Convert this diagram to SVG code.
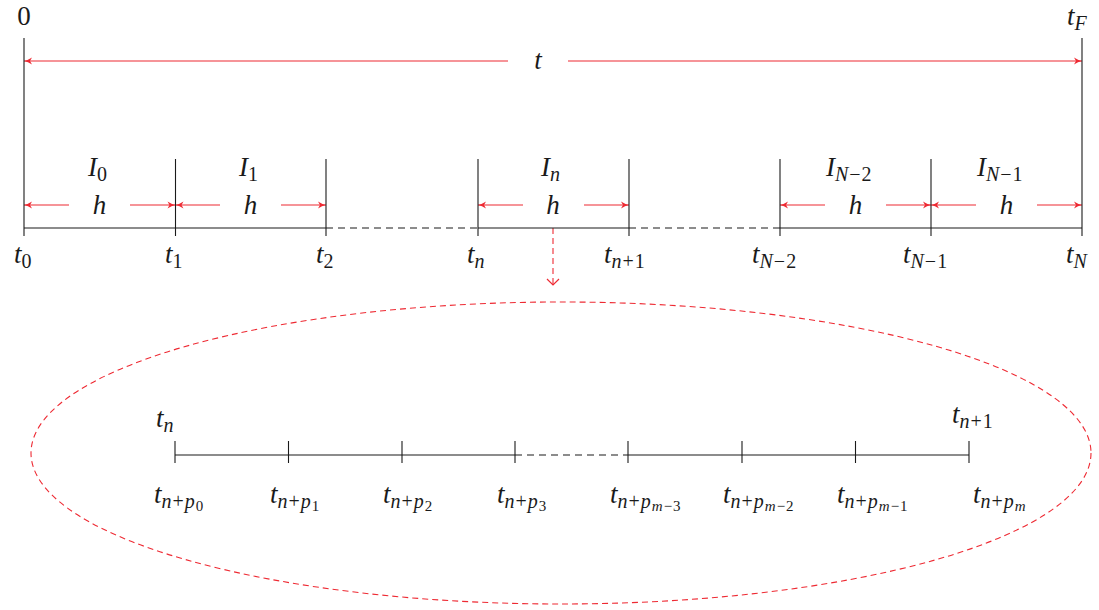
<svg xmlns="http://www.w3.org/2000/svg" width="1099" height="610" viewBox="0 0 1099 610">
<style>
.ax{stroke:#1a1a1a;stroke-width:1.1;fill:none}
.dash{stroke:#1a1a1a;stroke-width:1.1;fill:none;stroke-dasharray:7,5}
.ra{stroke:#ee2a33;stroke-width:1.2;fill:none}
.rd{stroke:#ee2a33;stroke-width:1.1;fill:none;stroke-dasharray:6,4}
text{font-family:'Liberation Serif','Times New Roman','DejaVu Serif',serif;font-size:27px;fill:#1a1a1a}
.i{font-style:italic}
.s{font-size:20px;letter-spacing:1px}
.ss{font-size:15px;letter-spacing:1px}
</style>
<defs>
<marker id="ah" markerWidth="10" markerHeight="10" refX="9" refY="5" orient="auto-start-reverse" markerUnits="userSpaceOnUse">
<path d="M1,1.5 Q5,4.2 9,5 Q5,5.8 1,8.5 L3,5 Z" fill="#ee2a33"/>
</marker>
</defs>
<g id="connectors">
<line class="ra" x1="24" y1="61" x2="508" y2="61" marker-start="url(#ah)"/>
<line class="ra" x1="568" y1="61" x2="1082" y2="61" marker-end="url(#ah)"/>
<line class="ra" x1="24" y1="205" x2="69" y2="205" marker-start="url(#ah)"/>
<line class="ra" x1="130" y1="205" x2="175.5" y2="205" marker-end="url(#ah)"/>
<line class="ra" x1="175.5" y1="205" x2="220" y2="205" marker-start="url(#ah)"/>
<line class="ra" x1="281" y1="205" x2="326" y2="205" marker-end="url(#ah)"/>
<line class="ra" x1="478" y1="205" x2="523" y2="205" marker-start="url(#ah)"/>
<line class="ra" x1="584" y1="205" x2="629" y2="205" marker-end="url(#ah)"/>
<line class="ra" x1="780" y1="205" x2="825" y2="205" marker-start="url(#ah)"/>
<line class="ra" x1="886" y1="205" x2="931" y2="205" marker-end="url(#ah)"/>
<line class="ra" x1="931" y1="205" x2="976" y2="205" marker-start="url(#ah)"/>
<line class="ra" x1="1037" y1="205" x2="1082" y2="205" marker-end="url(#ah)"/>
<line class="rd" x1="553" y1="228" x2="553" y2="285"/>
<path class="ra" d="M547,279 L553,285 L559,279"/>
</g>
<g id="main-axis">
<line class="ax" x1="24" y1="228" x2="326" y2="228"/>
<line class="dash" x1="326" y1="228" x2="478" y2="228"/>
<line class="ax" x1="478" y1="228" x2="629" y2="228"/>
<line class="dash" x1="629" y1="228" x2="780" y2="228"/>
<line class="ax" x1="780" y1="228" x2="1082" y2="228"/>
<line class="ax" x1="24" y1="38" x2="24" y2="236"/>
<line class="ax" x1="1082" y1="38" x2="1082" y2="236"/>
<line class="ax" x1="175.5" y1="159" x2="175.5" y2="236"/>
<line class="ax" x1="326" y1="159" x2="326" y2="236"/>
<line class="ax" x1="478" y1="159" x2="478" y2="236"/>
<line class="ax" x1="629" y1="159" x2="629" y2="236"/>
<line class="ax" x1="780" y1="159" x2="780" y2="236"/>
<line class="ax" x1="931" y1="159" x2="931" y2="236"/>
</g>
<g id="top-labels">
<text x="24" y="25" text-anchor="middle">0</text>
<text x="1067" y="25"><tspan class="i">t</tspan><tspan class="s i" dy="5">F</tspan></text>
<text x="538" y="69" text-anchor="middle" class="i">t</text>
</g>
<g id="interval-labels">
<text x="88" y="176"><tspan class="i">I</tspan><tspan class="s" dy="5">0</tspan></text>
<text x="239" y="176"><tspan class="i">I</tspan><tspan class="s" dy="5">1</tspan></text>
<text x="541" y="176"><tspan class="i">I</tspan><tspan class="s i" dy="5">n</tspan></text>
<text x="826" y="176"><tspan class="i">I</tspan><tspan class="s" dy="5"><tspan class="i">N</tspan>−2</tspan></text>
<text x="977" y="176"><tspan class="i">I</tspan><tspan class="s" dy="5"><tspan class="i">N</tspan>−1</tspan></text>
<text x="99.5" y="214" text-anchor="middle" class="i">h</text>
<text x="250.5" y="214" text-anchor="middle" class="i">h</text>
<text x="553" y="214" text-anchor="middle" class="i">h</text>
<text x="855.5" y="214" text-anchor="middle" class="i">h</text>
<text x="1006.5" y="214" text-anchor="middle" class="i">h</text>
</g>
<g id="tick-labels">
<text x="14" y="263"><tspan class="i">t</tspan><tspan class="s" dy="5">0</tspan></text>
<text x="165" y="263"><tspan class="i">t</tspan><tspan class="s" dy="5">1</tspan></text>
<text x="316" y="263"><tspan class="i">t</tspan><tspan class="s" dy="5">2</tspan></text>
<text x="467" y="263"><tspan class="i">t</tspan><tspan class="s i" dy="5">n</tspan></text>
<text x="604" y="263"><tspan class="i">t</tspan><tspan class="s" dy="5"><tspan class="i">n</tspan>+1</tspan></text>
<text x="752" y="263"><tspan class="i">t</tspan><tspan class="s" dy="5"><tspan class="i">N</tspan>−2</tspan></text>
<text x="903" y="263"><tspan class="i">t</tspan><tspan class="s" dy="5"><tspan class="i">N</tspan>−1</tspan></text>
<text x="1066" y="263"><tspan class="i">t</tspan><tspan class="s i" dy="5">N</tspan></text>
</g>
<g id="zoom-ellipse">
<ellipse class="rd" cx="561" cy="453" rx="530" ry="151"/>
</g>
<g id="sub-axis">
<line class="ax" x1="175" y1="455" x2="515" y2="455"/>
<line class="dash" x1="515" y1="455" x2="628" y2="455"/>
<line class="ax" x1="628" y1="455" x2="969" y2="455"/>
<line class="ax" x1="175" y1="441" x2="175" y2="463"/>
<line class="ax" x1="288.5" y1="441" x2="288.5" y2="463"/>
<line class="ax" x1="402" y1="441" x2="402" y2="463"/>
<line class="ax" x1="515" y1="441" x2="515" y2="463"/>
<line class="ax" x1="628" y1="441" x2="628" y2="463"/>
<line class="ax" x1="742" y1="441" x2="742" y2="463"/>
<line class="ax" x1="855.5" y1="441" x2="855.5" y2="463"/>
<line class="ax" x1="969" y1="441" x2="969" y2="463"/>
</g>
<g id="sub-labels">
<text x="156" y="427"><tspan class="i">t</tspan><tspan class="s i" dy="5">n</tspan></text>
<text x="952" y="423"><tspan class="i">t</tspan><tspan class="s" dy="5"><tspan class="i">n</tspan>+1</tspan></text>
<text x="154" y="503"><tspan class="i">t</tspan><tspan class="s" dy="5"><tspan class="i">n</tspan>+<tspan class="i">p</tspan></tspan><tspan class="ss" dy="3">0</tspan></text>
<text x="270" y="503"><tspan class="i">t</tspan><tspan class="s" dy="5"><tspan class="i">n</tspan>+<tspan class="i">p</tspan></tspan><tspan class="ss" dy="3">1</tspan></text>
<text x="383" y="503"><tspan class="i">t</tspan><tspan class="s" dy="5"><tspan class="i">n</tspan>+<tspan class="i">p</tspan></tspan><tspan class="ss" dy="3">2</tspan></text>
<text x="497" y="503"><tspan class="i">t</tspan><tspan class="s" dy="5"><tspan class="i">n</tspan>+<tspan class="i">p</tspan></tspan><tspan class="ss" dy="3">3</tspan></text>
<text x="610" y="503"><tspan class="i">t</tspan><tspan class="s" dy="5"><tspan class="i">n</tspan>+<tspan class="i">p</tspan></tspan><tspan class="ss" dy="3"><tspan class="i">m</tspan>−3</tspan></text>
<text x="723" y="503"><tspan class="i">t</tspan><tspan class="s" dy="5"><tspan class="i">n</tspan>+<tspan class="i">p</tspan></tspan><tspan class="ss" dy="3"><tspan class="i">m</tspan>−2</tspan></text>
<text x="837" y="503"><tspan class="i">t</tspan><tspan class="s" dy="5"><tspan class="i">n</tspan>+<tspan class="i">p</tspan></tspan><tspan class="ss" dy="3"><tspan class="i">m</tspan>−1</tspan></text>
<text x="973" y="503"><tspan class="i">t</tspan><tspan class="s" dy="5"><tspan class="i">n</tspan>+<tspan class="i">p</tspan></tspan><tspan class="ss i" dy="3">m</tspan></text>
</g>
</svg>
